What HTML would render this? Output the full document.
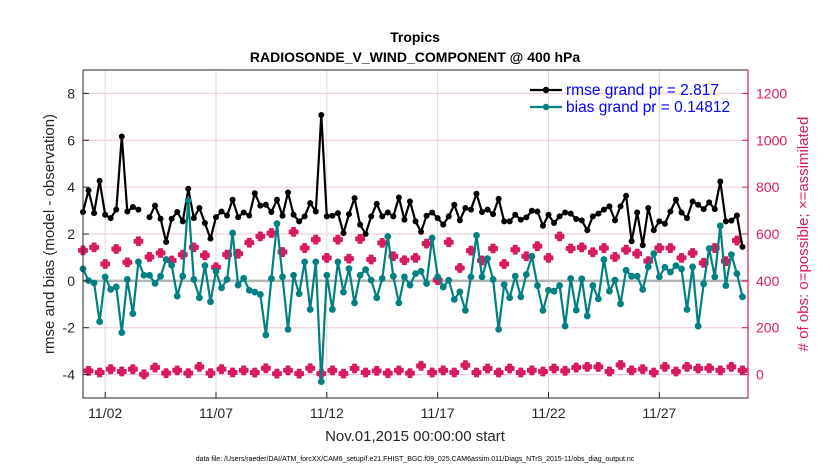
<!DOCTYPE html>
<html><head><meta charset="utf-8"><style>
body{margin:0;background:#fff;}
svg{display:block;font-family:"Liberation Sans",sans-serif;}
</style></head><body>
<svg id="chart" width="830" height="470"></svg>
<script>
const rmse=[2.94,3.86,2.89,4.27,2.82,2.68,3.04,6.16,2.96,3.15,3.04,null,2.72,3.21,2.65,1.66,2.65,2.94,2.54,3.93,2.68,3.11,2.47,1.80,2.72,2.96,2.79,3.46,2.72,2.92,2.79,
3.74,3.21,3.25,2.94,3.46,2.78,3.77,2.82,2.54,2.75,3.32,2.96,7.08,2.75,2.78,2.89,2.04,2.85,3.53,2.40,2.00,2.75,3.29,2.75,2.92,2.75,3.56,2.61,3.39,
2.54,2.09,2.78,2.92,2.68,2.40,2.75,3.25,2.58,3.11,3.04,3.72,2.94,3.04,2.85,3.50,2.54,2.54,2.82,2.61,2.71,2.99,2.96,2.35,2.82,2.47,2.75,2.92,2.87,2.64,
2.58,2.16,2.75,2.87,3.04,3.18,2.58,3.18,3.63,1.69,2.92,1.52,3.11,2.16,2.54,2.44,2.96,3.46,2.92,2.68,3.39,3.25,3.06,3.35,3.06,4.24,2.54,2.57,2.79,1.45];
const bias=[0.51,0.01,-0.09,-1.74,0.17,-0.37,-0.26,-2.21,0.06,-1.40,0.81,0.24,0.24,-0.11,0.20,0.91,0.67,-0.65,0.20,3.42,0.06,-0.72,0.65,-0.89,0.41,-0.30,0.06,2.04,-0.18,0.11,-0.40,
-0.48,-0.58,-2.31,0.10,2.44,0.17,-2.07,0.24,-0.55,0.81,-1.22,0.81,-4.30,0.24,-1.22,0.81,-0.48,0.52,-0.94,0.24,0.48,0.03,-0.72,0.10,1.90,0.20,-0.94,0.17,-0.18,
0.31,0.41,-0.11,1.83,0.17,-0.26,0.03,-0.79,-0.47,-1.26,0.17,1.94,0.17,0.95,0.06,-2.07,-0.16,-0.72,0.20,-0.68,0.27,1.05,-0.20,-1.26,-0.40,-0.44,-0.20,-1.93,0.10,-1.25,
0.09,-1.50,-0.20,-0.77,0.91,-0.44,0.03,-0.98,0.45,0.20,0.20,-0.37,0.60,1.16,0.17,0.58,0.38,0.65,0.51,-1.22,0.60,-1.93,-0.13,1.38,0.17,2.35,-0.20,1.12,0.31,-0.68];
const obsEven=[530,543,472,536,479,569,502,519,487,512,543,509,458,512,516,563,
590,604,523,609,540,576,498,576,495,579,491,562,505,488,
498,559,403,565,455,529,487,538,472,533,505,548,498,590,538,
543,522,540,502,533,516,484,540,540,498,519,477,540,484,572];
const obsOdd=[16,9,23,13,23,1,30,6,18,6,33,6,23,9,18,
9,27,4,18,4,27,4,18,4,26,9,16,6,18,6,
37,9,18,9,40,9,26,9,26,9,18,13,26,16,30,
33,33,13,41,18,23,9,33,13,33,26,27,18,33,18];
const xTickDays=[2,7,12,17,22,27];
const xTickLabels=["11/02","11/07","11/12","11/17","11/22","11/27"];
const yTicks=[-4,-2,0,2,4,6,8];
const y2Ticks=[0,200,400,600,800,1000,1200];

const NS="http://www.w3.org/2000/svg";
const svg=document.getElementById('chart');
const L=83,R=748,T=70,B=398;
const X=d=>L+(d-1)/30*(R-L);
const Y=v=>B-(v+5)/14*(B-T);
const Y2=c=>Y(c/100-4);
const ti=i=>1+i/4;
function mk(tag,attrs,parent){const e=document.createElementNS(NS,tag);for(const k in attrs)e.setAttribute(k,attrs[k]);(parent||svg).appendChild(e);return e;}
function txt(s,attrs){const e=mk('text',attrs);e.textContent=s;return e;}

yTicks.forEach(v=>{const g=mk('line',{x1:L,x2:R,y1:Y(v),y2:Y(v),stroke:'#f3c6d8','stroke-width':1});

});
xTickDays.forEach(d=>{const g=mk('line',{x1:X(d),x2:X(d),y1:T,y2:B,stroke:'#d9d9d9','stroke-width':1});

});
const z=mk('line',{x1:L,x2:R,y1:Y(0),y2:Y(0),stroke:'#b4b4b4','stroke-width':2.5});



function cross(x,y){const s=4;return `M${x-s},${y-s*0.4}h${s*0.6}v${-s*0.6}h${s*0.8}v${s*0.6}h${s*0.6}v${s*0.8}h${-s*0.6}v${s*0.6}h${-s*0.8}v${-s*0.6}h${-s*0.6}z`;}
obsEven.forEach((c,k)=>{const p=mk('path',{d:cross(X(ti(2*k)),Y2(c)),fill:'#d81b60',stroke:'#d81b60','stroke-width':1.8,'stroke-linejoin':'round'});

});
obsOdd.forEach((c,k)=>{const p=mk('path',{d:cross(X(ti(2*k+1)),Y2(c)),fill:'#d81b60',stroke:'#d81b60','stroke-width':1.8,'stroke-linejoin':'round'});

});

function series(arr,color,name,r){
  let d='',pen=false;
  arr.forEach((v,i)=>{if(v==null){pen=false;return;}d+=(pen?'L':'M')+X(ti(i)).toFixed(1)+','+Y(v).toFixed(1);pen=true;});
  const l=mk('path',{d:d,fill:'none',stroke:color,'stroke-width':2.2,'stroke-linejoin':'round'});
  
  
  arr.forEach((v,i)=>{if(v==null)return;const c=mk('circle',{cx:X(ti(i)),cy:Y(v),r:r,fill:color});
  
  });
}
series(rmse,'#000','rmse',3);
series(bias,'#008080','bias',3.4);

const bx=mk('path',{d:`M${L},${T}H${R}M${L},${T}V${B}H${R}`,fill:'none',stroke:'#262626','stroke-width':1});


const ra=mk('line',{x1:R,x2:R,y1:T,y2:B,stroke:'#d81b60','stroke-width':1.2});



yTicks.forEach(v=>{mk('line',{x1:L,x2:L+6,y1:Y(v),y2:Y(v),stroke:'#262626'});
const t=txt(String(v),{x:L-8,y:Y(v)+5,'text-anchor':'end','font-size':14,fill:'#262626'});

});
y2Ticks.forEach(c=>{mk('line',{x1:R-6,x2:R,y1:Y2(c),y2:Y2(c),stroke:'#d81b60'});
const t=txt(String(c),{x:R+8,y:Y2(c)+5,'font-size':14,fill:'#d81b60'});

});
xTickDays.forEach((d,i)=>{mk('line',{x1:X(d),x2:X(d),y1:B-6,y2:B,stroke:'#262626'});
const t=txt(xTickLabels[i],{x:X(d),y:B+20,'text-anchor':'middle','font-size':14,fill:'#262626'});

});

let t;
t=txt('Tropics',{x:415,y:42,'text-anchor':'middle','font-size':14,'font-weight':'bold',fill:'#000'});

t=txt('RADIOSONDE_V_WIND_COMPONENT @ 400 hPa',{x:415,y:62,'text-anchor':'middle','font-size':14,'font-weight':'bold',fill:'#000'});

t=txt('Nov.01,2015 00:00:00 start',{x:415,y:441,'text-anchor':'middle','font-size':15,fill:'#262626'});

t=txt('data file: /Users/raeder/DAI/ATM_forcXX/CAM6_setup/f.e21.FHIST_BGC.f09_025.CAM6assim.011/Diags_NTrS_2015-11/obs_diag_output.nc',{x:415,y:461,'text-anchor':'middle','font-size':7,fill:'#000'});

t=txt('rmse and bias (model - observation)',{x:0,y:0,'text-anchor':'middle','font-size':15,fill:'#262626',transform:`translate(54,${(T+B)/2}) rotate(-90)`});

t=txt('# of obs: o=possible; \u00d7=assimilated',{x:0,y:0,'text-anchor':'middle','font-size':15,fill:'#d81b60',transform:`translate(808,${(T+B)/2}) rotate(-90)`});


const lg=mk('g',{});


[['rmse grand pr = 2.817','#000',90,'legend-entry-rmse'],['bias grand pr = 0.14812','#008080',107,'legend-entry-bias']].forEach(([s,c,y,n])=>{
  const g=mk('g',{},lg);
  
  
  mk('line',{x1:530,x2:562,y1:y,y2:y,stroke:c,'stroke-width':2.2},g);
  mk('circle',{cx:546,cy:y,r:3.2,fill:c},g);
  const e=mk('text',{x:566,y:y+5,'font-size':15.5,fill:'#0000ff'},g);e.textContent=s;
});
</script>
</body></html>
